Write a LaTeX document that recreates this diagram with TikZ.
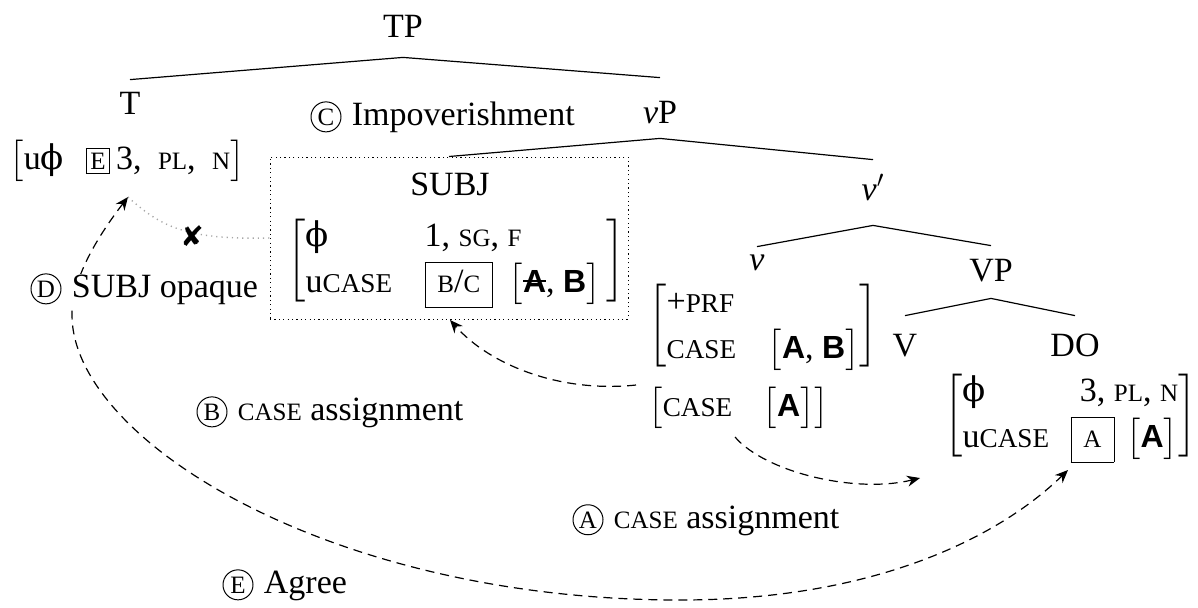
\documentclass[tikz,border=0pt]{standalone}
\usepackage{exscale}
\usepackage{fontspec}
\setmainfont{Liberation Serif}
\newfontfamily\bsans{Liberation Sans}
\newfontfamily\symfont{DejaVu Sans}
\newfontfamily\phifont{DejaVu Serif}
\usetikzlibrary{arrows.meta}

% reduced capitals standing in for small caps
\newcommand\fsc[1]{{\fontsize{12.5}{14}\selectfont #1}}
% feature names such as CASE, PRF
\newcommand\fcase[1]{{\fontsize{13.6}{16}\selectfont #1}}
% bold sans case values
\newcommand\fbl[1]{{\fontsize{16}{19}\selectfont\bsans\bfseries #1}}
% upright phi
\newcommand\fphi{{\phifont ϕ}}
% struck-out value
\newcommand\strk[1]{\setbox0\hbox{#1}\rlap{\rule[0.32em]{\wd0}{0.06em}}\box0}
% tall box round an assigned value
\newcommand\valbox[1]{{\fboxsep=1pt\fbox{\strut\hspace{5pt}#1\hspace{5pt}}}}
% two-row attribute-value matrix in square brackets
\newcommand\avm[2]{$\biggl[\begin{tabular}{#1}#2\end{tabular}\biggr]$}
\renewcommand\arraystretch{1.15}
\setlength\fboxsep{1.8pt}

\begin{document}
\begin{tikzpicture}[x=0.5pt,y=-0.5pt,
  font=\fontsize{17}{20}\selectfont,
  lab/.style={anchor=base, inner sep=0pt, text height=11.5pt, text depth=0pt},
  feat/.style={inner sep=0pt},
  tree/.style={line width=0.6pt},
  circ/.style={draw, circle, fill=white, inner sep=0pt, minimum size=15pt,
    anchor=base, font=\fontsize{12}{14}\selectfont, line width=0.5pt},
  ctext/.style={anchor=base west, xshift=4.5pt, inner sep=0.5pt, fill=white},
  dasharrow/.style={line width=0.6pt, dash pattern=on 4.5pt off 3pt,
    -{Stealth[length=6.5pt,width=5.5pt]}},
  blocked/.style={line width=0.7pt, gray!70, dash pattern=on 0.6pt off 2pt}]
\useasboundingbox (0,0) rectangle (1198,607);

% ---- tree labels
\node[lab] (TP)   at (403,37)  {TP};
\node[lab] (T)    at (130,114) {T};
\node[lab] (vP)   at (660,123) {\textit{v}P};
\node[lab] (SUBJ) at (450,195) {SUBJ};
\node[lab] (vbar) at (873,200) {\textit{v}$'$};
\node[lab] (v)    at (757,270) {\textit{v}};
\node[lab] (VP)   at (991,281) {VP};
\node[lab] (V)    at (905,356) {V};
\node[lab] (DO)   at (1075,356) {DO};

% ---- feature matrices
\node[feat, anchor=base west] (tfeat) at (9,169)
  {$\bigl[$u\fphi\hspace{11pt}\fbox{\fsc{E}}\hspace{3pt}3,\hspace{4pt} \fsc{PL},\hspace{4pt} \fsc{N}$\bigr]$};

\node[feat, anchor=west] (sfeat) at (287,261)
  {\avm{@{}l@{}l@{}l@{\hspace{3pt}}}{%
    \makebox[59.5pt][l]{\fphi} & \multicolumn{2}{@{}l@{}}{1, \fsc{SG}, \fsc{F}} \\
    \makebox[59.5pt][l]{u\fcase{CASE}} & \makebox[42pt][l]{\valbox{\fsc{B}/\fsc{C}}} &
      $\bigl[$\strk{\fbl{A}}, \fbl{B}$\bigr]$}};

\node[feat, anchor=west] (vfeat) at (648,326)
  {\avm{@{}l@{}l@{}}{%
    \makebox[50.5pt][l]{+\fcase{PRF}} & \\
    \makebox[50.5pt][l]{\fcase{CASE}} & $\bigl[$\fbl{A}, \fbl{B}$\bigr]$}};

\node[feat, anchor=base west] (vcase) at (648,416)
  {$\bigl[$\makebox[50pt][l]{\fcase{CASE}}$\bigl[$\fbl{A}$\bigr]\bigr]$};

\node[feat, anchor=west] (dofeat) at (944,416)
  {\avm{@{}l@{}r@{}}{%
    \makebox[54pt][l]{\fphi} & 3, \fsc{PL}, \fsc{N} \\
    \makebox[54pt][l]{u\fcase{CASE}} & \valbox{\fsc{A}}\hspace{6pt}$\bigl[$\fbl{A}$\bigr]$}};

% ---- dotted frame round the subject
\node[draw, line width=0.5pt, dash pattern=on 0.6pt off 1.6pt,
  minimum width=179pt, minimum height=81pt, inner sep=0pt] (subjbox) at (449,238) {};

% ---- branches
\draw[tree] ([yshift=-10pt]TP.south) -- ([yshift=5.5pt]T.north);
\draw[tree] ([yshift=-10pt]TP.south) -- ([yshift=11pt]vP.north);
\draw[tree] ([yshift=-7.5pt]vP.south) -- (subjbox.north);
\draw[tree] ([yshift=-7.5pt]vP.south) -- ([yshift=8.5pt]vbar.north);
\draw[tree] ([yshift=-12.5pt]vbar.south) -- (v.north);
\draw[tree] ([yshift=-12.5pt]vbar.south) -- ([yshift=6pt]VP.north);
\draw[tree] ([yshift=-8.5pt]VP.south) -- ([yshift=8.5pt]V.north);
\draw[tree] ([yshift=-8.5pt]VP.south) -- ([yshift=8.5pt]DO.north);

% ---- arrow end points
\coordinate (tgoal)  at (128,197);
\coordinate (dogoal) at (1068,470);
\coordinate (aS) at (735,437);
\coordinate (aE) at (920,478);
\coordinate (bS) at (636,385);
\coordinate (bE) at (450,320);

% A: case assignment to the object
\draw[dasharrow] (aS) .. controls (765,472) and (855,494) .. (aE);
% B: case assignment to the subject
\draw[dasharrow] (bS) .. controls (560,393) and (490,365) .. (bE);
% E/D: Agree between T and the object
\draw[dasharrow, {Stealth[length=6.5pt,width=5.5pt]}-{Stealth[length=6.5pt,width=5.5pt]}]
  (tgoal) .. controls (95,240) and (72,280) .. (72,315)
  .. controls (72,440) and (330,600) .. (680,600)
  .. controls (870,600) and (996,540) .. (dogoal);
% blocked probe into the subject
\draw[blocked] (tgoal) .. controls (160,226) and (185,240) .. (subjbox.west);
\node[inner sep=0pt, font=\fontsize{14}{16}\selectfont\symfont] (xmark) at (192,236) {✘};

% ---- step labels
\node[circ] (cC) at (326,125) {\fsc{C}};
\node[ctext] (tC) at (cC.east |- cC.base) {Impoverishment};
\node[circ] (cD) at (46,297) {\fsc{D}};
\node[ctext] (tD) at (cD.east |- cD.base) {SUBJ opaque};
\node[circ] (cB) at (212,420) {\fsc{B}};
\node[ctext] (tB) at (cB.east |- cB.base) {\fsc{CASE} assignment};
\node[circ] (cA) at (588,528) {\fsc{A}};
\node[ctext] (tA) at (cA.east |- cA.base) {\fsc{CASE} assignment};
\node[circ] (cE) at (238,593) {\fsc{E}};
\node[ctext] (tE) at (cE.east |- cE.base) {Agree};
\end{tikzpicture}
\end{document}
